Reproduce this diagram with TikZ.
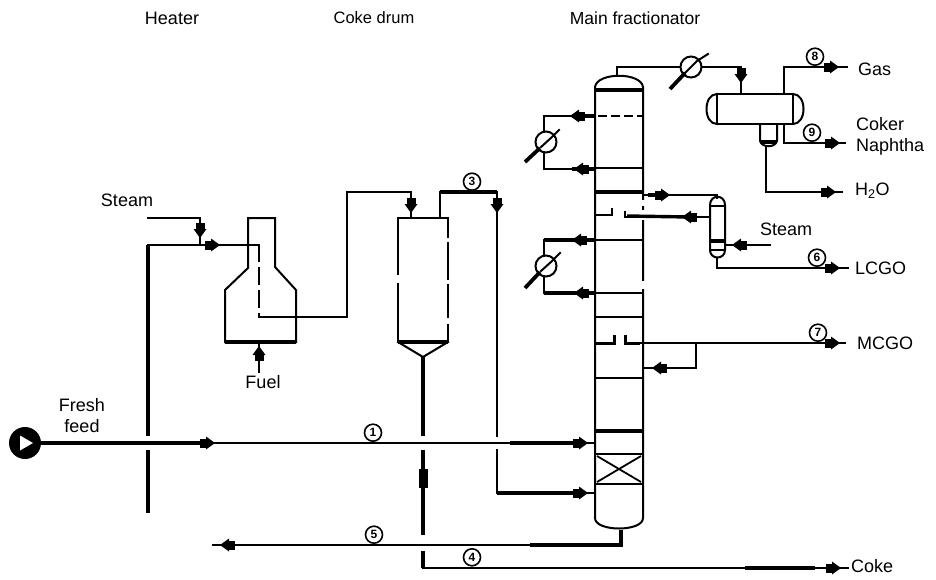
\documentclass[tikz,border=0pt]{standalone}
\usepackage{fontspec}
\setmainfont{Liberation Sans}
\usetikzlibrary{calc}
\tikzset{
  x=1pt,y=-1pt,
  pipe/.style={line width=2pt,line join=miter,line cap=rect},
  hvy/.style={line width=4.2pt},
  wgap/.style={white,line width=3.4pt},
  ablob/.pic={\fill (-7,-4.5) rectangle (1,4.5); \fill (-1,-6.5)--(8,0)--(-1,6.5)--cycle;},
  lbl/.style={inner sep=0pt,font=\fontsize{18}{21}\selectfont},
  num/.style={circle,draw,line width=1.6pt,fill=white,minimum size=17pt,inner sep=0pt,font=\fontsize{12}{12}\selectfont\bfseries},
  hxr/.style={circle,draw,line width=2pt,fill=white,minimum size=21pt,inner sep=0pt},
  pumpc/.style={circle,fill=black,minimum size=32pt,inner sep=0pt}
}
\begin{document}
\begin{tikzpicture}
\useasboundingbox[fill=white] (0,0) rectangle (936,579);
% key points
\coordinate (colTL) at (595,87); \coordinate (colTR) at (643,87);
\coordinate (colBL) at (595,518); \coordinate (colBR) at (643,518);
% titles
\node[lbl] (tHeater) at (172,18) {Heater};
\node[lbl,font=\fontsize{16.5}{18}\selectfont] (tDrum) at (374,18) {Coke drum};
\node[lbl,font=\fontsize{17.5}{18}\selectfont] (tFrac) at (635,18) {Main fractionator};
% column shell
\draw[pipe] (colBL) -- (colTL) .. controls (597,72) and (641,72) .. (colTR) -- (colBR)
  .. controls (643,532) and (595,532) .. (colBL);
\draw[wgap] (643,199.5) -- (643,206) (643,210) -- (643,220) (643,281) -- (643,289);
\draw[line width=3.4pt] (595,90) -- (643,90);
\draw[pipe,dash pattern=on 7pt off 6pt] (599,116) -- (643,116);
\draw[pipe] (595,168) -- (643,168);
\draw[line width=3.4pt] (595,192) -- (643,192);
\draw[pipe] (595,240) -- (643,240);
\draw[pipe] (595,293) -- (643,293);
\draw[pipe] (595,317) -- (643,317);
\draw[line width=2.4pt] (595,215) -- (612,215) -- (612,208);
\draw[line width=3pt] (595,343) -- (614,343) -- (614,335);
\draw[pipe] (595,378) -- (643,378);
\draw[line width=3.4pt] (595,431) -- (643,431);
\draw[line width=2.6pt] (595,454) -- (643,454);
\draw[pipe] (595,484) -- (643,484);
\draw[line width=1.8pt] (597,482) -- (641,456) (597,456) -- (641,482);
% heater
\draw[pipe] (248,267) -- (248,218) -- (275,218) -- (275,267) -- (296,290) -- (296,342);
\draw[pipe] (248,268) -- (225,290) -- (225,342);
\draw[line width=3.4pt] (225,342) -- (296,342);
\coordinate (fuelEnd) at (259,372);
\draw[pipe] (259,342) -- (fuelEnd);
\pic[rotate=90] at (259,354) {ablob};
\node[lbl] (tFuel) at (263,382) {Fuel};
% feed to heater
\coordinate (riser) at (148,245); \coordinate (coil) at (259,245); \coordinate (coilB) at (259,317);
\coordinate (drumIn) at (347,317); \coordinate (drumUp) at (347,192); \coordinate (drumTop) at (411,192);
\draw[pipe] (riser) -- (coil);
\draw[pipe,dash pattern=on 16pt off 7pt] (coil) -- (coilB);
\draw[pipe] (coilB) -- (drumIn) -- (drumUp) -- (drumTop) -- (411,218);
\draw[line width=3.6pt] (148,513) -- (148,450);
\draw[line width=4pt] (148,436) -- (riser);
\coordinate (steamS) at (148,218);
\draw[pipe] (steamS) -- (200,218) -- (200,245);
\pic[rotate=-90] at (200,230) {ablob};
\pic at (212,245) {ablob};
\node[lbl] (tSteam) at (127,200) {Steam};
% pump and feed
\node[pumpc] (pump) at (25,443) {};
\fill[white] (20,435.5) -- (33,443) -- (20,450.5) -- cycle;
\draw[hvy] (pump.east) -- (200,443);
\draw[pipe] (200,443) -- (595,443);
\pic at (207,443) {ablob};
\draw[line width=3.2pt] (510,443) -- (580,443);
\pic at (580,443) {ablob};
\node[num,anchor=south] (n1) at (373,442) {1};
\node[lbl,align=center] (tFresh) at (82,416) {Fresh\\feed};
% coke drum
\draw[pipe] (398,218) -- (448,218) -- (448,342);
\draw[pipe] (398,218) -- (398,342);
\draw[wgap] (448,238) -- (448,242) (448,280) -- (448,284) (448,318) -- (448,324) (398,275) -- (398,283);
\draw[line width=3.4pt] (398,342) -- (448,342);
\draw[pipe] (398,342) -- (423,357) -- (448,342);
\draw[line width=3.6pt] (423,357) -- (423,436);
\draw[line width=3.6pt] (423,450) -- (423,535);
\fill (419,469) rectangle (428,488);
\draw[line width=3.2pt] (423,551) -- (423,568);
% overhead
\coordinate (ovA) at (440,218); \coordinate (ovB) at (440,192); \coordinate (ovC) at (497,192);
\coordinate (ovD) at (497,493);
\draw[pipe] (ovA) -- (ovB) -- (ovC) -- (497,436);
\draw[pipe] (497,450) -- (ovD) -- (595,493);
\draw[line width=3.4pt] (497,493) -- (580,493);
\draw[line width=3.4pt] (440,192) -- (497,192);
\pic[rotate=-90] at (411,205) {ablob};
\pic[rotate=-90] at (497,205) {ablob};
\pic at (580,493) {ablob};
\node[num,anchor=south] (n3) at (472,191) {3};
% bottoms lines
\coordinate (botA) at (621,530); \coordinate (botB) at (621,545); \coordinate (botC) at (213,545);
\draw[line width=4.4pt] (botA) -- (botB) -- (530,545);
\draw[pipe] (530,545) -- (botC);
\pic[rotate=180] at (228,545) {ablob};
\node[num,anchor=south] (n5) at (374,544) {5};
\coordinate (cokeA) at (423,568); \coordinate (cokeE) at (848,568);
\draw[pipe] (cokeA) -- (cokeE);
\draw[line width=3.4pt] (745,568) -- (815,568);
\pic at (833,568) {ablob};
\node[num,anchor=north] (n4) at (472,548) {4};
\node[lbl,anchor=west] (tCoke) at (851,566) {Coke};
% exchangers on column
\coordinate (h1a) at (595,116); \coordinate (h1b) at (544,116); \coordinate (h1c) at (544,169); \coordinate (h1d) at (595,169);
\draw[pipe] (h1a) -- (h1b) -- (h1c) -- (h1d);
\draw[line width=3.4pt] (595,116) -- (572,116) (595,169) -- (572,169);
\pic[rotate=180] at (578,116) {ablob};
\pic[rotate=180] at (582,169) {ablob};
\node[hxr] (hx1) at (546,142) {};
\draw[pipe] (541,147) -- (552,137) (552,137) -- (559,130);
\draw[line width=3.8pt] (525,162) -- (540,148);
\coordinate (h2a) at (595,240); \coordinate (h2b) at (544,240); \coordinate (h2c) at (544,293); \coordinate (h2d) at (595,293);
\draw[line width=3.4pt] (h2a) -- (h2b);
\draw[pipe] (h2b) -- (h2c);
\draw[line width=3.4pt] (h2c) -- (h2d);
\pic[rotate=180] at (580,240) {ablob};
\pic[rotate=180] at (582,293) {ablob};
\node[hxr] (hx2) at (546,266) {};
\draw[pipe] (541,271) -- (552,261) (552,261) -- (560,253);
\draw[line width=3.8pt] (525,288) -- (540,272);
% overhead condenser and receiver
\coordinate (o1) at (617,75); \coordinate (o2) at (617,67); \coordinate (o3) at (741,67); \coordinate (o4) at (741,94);
\draw[pipe] (o1) -- (o2) -- (o3) -- (o4);
\pic[rotate=-90] at (741,75) {ablob};
\node[hxr] (hx3) at (691,67) {};
\draw[pipe] (685,73) -- (697,61) (697,61) -- (708,54);
\draw[line width=3.8pt] (670,89) -- (685,73);
\draw[pipe] (717,94) rectangle (793,124);
\draw[pipe] (717,94) .. controls (703,94) and (703,124) .. (717,124);
\draw[pipe] (793,94) .. controls (807,94) and (807,124) .. (793,124);
\draw[pipe] (760,124) -- (760,141) .. controls (762,148) and (775,148) .. (777,141) -- (777,124);
\draw[line width=3.4pt] (761,142) -- (776,142);
% gas
\coordinate (g1) at (784,94); \coordinate (g2) at (784,67); \coordinate (g3) at (847,67);
\draw[pipe] (g1) -- (g2) -- (g3);
\pic at (831,67) {ablob};
\node[num,anchor=south] (n8) at (815,66) {8};
\node[lbl,anchor=west] (tGas) at (858,69) {Gas};
% naphtha
\coordinate (n1a) at (784,124); \coordinate (n1b) at (784,143); \coordinate (n1c) at (845,143);
\draw[pipe] (n1a) -- (n1b) -- (n1c);
\pic at (832,143) {ablob};
\node[num,anchor=south] (n9) at (812,142) {9};
\node[lbl,anchor=west,align=left] (tNaph) at (856,136) {Coker\\Naphtha};
% water
\coordinate (w1) at (766,147); \coordinate (w2) at (766,192); \coordinate (w3) at (842,192);
\draw[pipe] (w1) -- (w2) -- (w3);
\pic at (828,192) {ablob};
\node[lbl,anchor=west] (tWater) at (855,191) {H\textsubscript{2}O};
% stripper
\draw[pipe] (710,205) .. controls (710,194) and (725,194) .. (725,205) -- (725,250) .. controls (725,260) and (710,260) .. (710,250) -- cycle;
\draw[pipe] (710,206) -- (725,206);
\draw[line width=3.2pt] (710,241) -- (725,241);
\draw[pipe] (710,250) -- (725,250);
\coordinate (s1) at (643,195); \coordinate (s2) at (717,195); \coordinate (s3) at (710,217); \coordinate (s4) at (625,217);
\draw[pipe] (s1) -- (s2) -- (717,198);
\draw[line width=3.4pt] (648,195) -- (662,195);
\pic at (662,195) {ablob};
\draw[pipe] (s3) -- (s4) -- (625,212);
\draw[line width=3.4pt] (627,216) -- (690,217);
\pic[rotate=180] at (690,217) {ablob};
\coordinate (st1) at (770,245); \coordinate (st2) at (725,245);
\draw[pipe] (st1) -- (st2);
\pic[rotate=180] at (740,245) {ablob};
\node[lbl] (tStream) at (786,229) {Steam};
% LCGO
\coordinate (l1) at (717,258); \coordinate (l2) at (717,268); \coordinate (l3) at (848,268);
\draw[pipe] (l1) -- (l2) -- (l3);
\pic at (832,268) {ablob};
\node[num,anchor=south] (n6) at (817,267) {6};
\node[lbl,anchor=west] (tLcgo) at (855,268) {LCGO};
% MCGO
\coordinate (m1) at (625,343); \coordinate (m2) at (845,343); \coordinate (m3) at (696,343); \coordinate (m4) at (696,368); \coordinate (m5) at (645,368);
\draw[pipe] (m1) -- (m2);
\draw[line width=3pt] (625,335) -- (m1) -- (640,343);
\draw[pipe] (m3) -- (m4) -- (m5);
\pic at (832,343) {ablob};
\pic[rotate=180] at (660,368) {ablob};
\node[num,anchor=south] (n7) at (818,342) {7};
\node[lbl,anchor=west] (tMcgo) at (857,343) {MCGO};
\end{tikzpicture}
\end{document}
